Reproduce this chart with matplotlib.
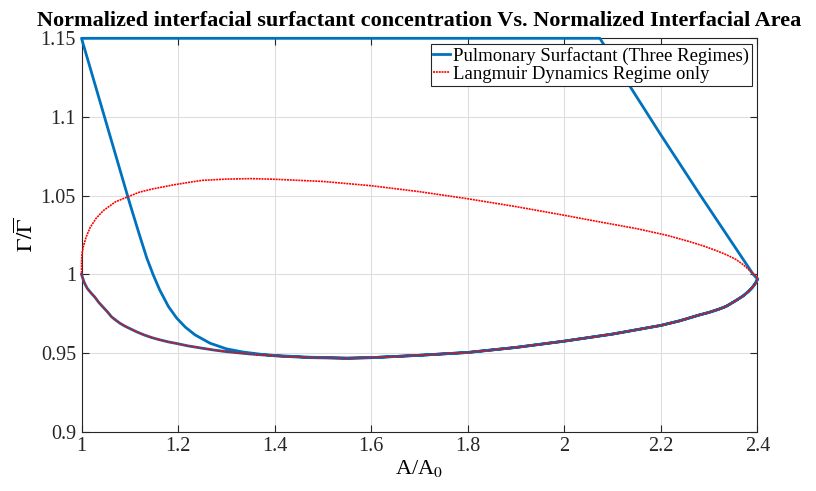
import numpy as np
import matplotlib
matplotlib.use("Agg")
import matplotlib.pyplot as plt

plt.rcParams['font.family'] = ['Liberation Serif', 'DejaVu Serif']
plt.rcParams['mathtext.fontset'] = 'stix'

# Langmuir-only loop (lower branch then upper branch)
red_x = [1.000, 1.002, 1.006, 1.012, 1.020, 1.027, 1.036, 1.045, 1.054, 1.062, 1.071, 1.080,
         1.090, 1.100, 1.115, 1.130, 1.145, 1.160, 1.180, 1.197, 1.220, 1.250, 1.275,
         1.300, 1.350, 1.403, 1.472, 1.550, 1.600, 1.700, 1.800, 1.900, 2.000, 2.100, 2.200,
         2.240, 2.278, 2.300, 2.320, 2.335, 2.346, 2.358, 2.370, 2.381, 2.389, 2.395, 2.398, 2.400,
         2.399, 2.395, 2.388, 2.380, 2.370, 2.355, 2.335, 2.315, 2.290, 2.260, 2.212, 2.150,
         2.073, 2.000, 1.900, 1.800, 1.700, 1.600, 1.500, 1.400, 1.350, 1.300, 1.250, 1.224,
         1.190, 1.148, 1.120, 1.097, 1.070, 1.045, 1.030, 1.018, 1.010, 1.004, 1.001, 1.000,
         1.000, 1.000]
red_y = [1.000, 0.998, 0.9945, 0.991, 0.988, 0.9857, 0.982, 0.979, 0.976, 0.973, 0.9708, 0.9688,
         0.967, 0.9655, 0.9633, 0.9614, 0.9598, 0.9585, 0.957, 0.956, 0.9545, 0.953, 0.9518,
         0.9508, 0.9493, 0.9481, 0.9470, 0.9466, 0.9470, 0.9485, 0.9503, 0.9535, 0.9575, 0.9620, 0.9675,
         0.9705, 0.9740, 0.9758, 0.9778, 0.9796, 0.9816, 0.9838, 0.9862, 0.9890, 0.9915, 0.9940, 0.9955, 0.9970,
         0.9985, 0.9998, 1.0010, 1.0035, 1.0062, 1.0095, 1.0125, 1.0150, 1.0178, 1.0207, 1.0248, 1.0290,
         1.0333, 1.0375, 1.0430, 1.0480, 1.0525, 1.0563, 1.0590, 1.0604, 1.0608, 1.0605, 1.0597, 1.0585,
         1.0568, 1.0543, 1.0522, 1.0494, 1.0460, 1.0404, 1.0355, 1.0298, 1.0240, 1.0180, 1.0130, 1.0080,
         1.0040, 1.0000]

# three-regime cycle: first expansion, compression up the diagonal, plateau,
# then expansion from the plateau back onto the lower branch
blue_x = [1.000, 1.002, 1.006, 1.012, 1.020, 1.027, 1.036, 1.045, 1.054, 1.062, 1.071, 1.080,
          1.090, 1.100, 1.115, 1.130, 1.145, 1.160, 1.180, 1.197, 1.220, 1.250, 1.275,
          1.300, 1.350, 1.403, 1.472, 1.550, 1.600, 1.700, 1.800, 1.900, 2.000, 2.100, 2.200,
          2.240, 2.278, 2.300, 2.320, 2.335, 2.346, 2.358, 2.370, 2.381, 2.389, 2.395, 2.398, 2.400,
          2.391, 2.281, 2.198, 2.142, 2.0735,
          1.000,
          1.040, 1.080, 1.100, 1.120, 1.135, 1.148, 1.162, 1.180, 1.197, 1.215, 1.235,
          1.266, 1.300, 1.334, 1.370, 1.403, 1.472, 1.550, 1.600, 1.700, 1.800, 1.900, 2.000,
          2.100, 2.200, 2.240, 2.278, 2.300, 2.320, 2.335, 2.346, 2.358, 2.370, 2.381, 2.389,
          2.395, 2.398, 2.400]
blue_y = [1.000, 0.998, 0.9945, 0.991, 0.988, 0.9857, 0.982, 0.979, 0.976, 0.973, 0.9708, 0.9688,
          0.967, 0.9655, 0.9633, 0.9614, 0.9598, 0.9585, 0.957, 0.956, 0.9545, 0.953, 0.9518,
          0.9508, 0.9493, 0.9481, 0.9470, 0.9466, 0.9470, 0.9485, 0.9503, 0.9535, 0.9575, 0.9620, 0.9675,
          0.9705, 0.9740, 0.9758, 0.9778, 0.9796, 0.9816, 0.9838, 0.9862, 0.9890, 0.9915, 0.9940, 0.9955, 0.9970,
          1.0000, 1.0505, 1.0895, 1.1165, 1.1500,
          1.1500,
          1.1080, 1.0660, 1.0450, 1.0250, 1.0105, 1.0000, 0.9900, 0.9795, 0.9722, 0.9664, 0.9615,
          0.9562, 0.9526, 0.9506, 0.9492, 0.9483, 0.9473, 0.9467, 0.9470, 0.9485, 0.9503, 0.9535, 0.9575,
          0.9620, 0.9675, 0.9705, 0.9740, 0.9758, 0.9778, 0.9796, 0.9816, 0.9838, 0.9862, 0.9890, 0.9915,
          0.9940, 0.9955, 0.9970]

x_ticks = [1, 1.2, 1.4, 1.6, 1.8, 2, 2.2, 2.4]
x_labels = ['1', '1.2', '1.4', '1.6', '1.8', '2', '2.2', '2.4']
y_ticks = [0.9, 0.95, 1, 1.05, 1.1, 1.15]
y_labels = ['0.9', '0.95', '1', '1.05', '1.1', '1.15']

fig = plt.figure(figsize=(8.16, 4.91), dpi=100)
ax = fig.add_axes([0.0999, 0.121, 0.8284, 0.801])

ax.plot(blue_x, blue_y, color='#0072BD', lw=2.0, clip_on=False,
        label='Pulmonary Surfactant (Three Regimes)', zorder=3)
ax.plot(red_x, red_y, color='red', lw=1.2, ls=(0, (1.2, 0.5)), clip_on=False,
        label='Langmuir Dynamics Regime only', zorder=4)

ax.set_xlim(1, 2.4)
ax.set_ylim(0.9, 1.15)
ax.set_xticks(x_ticks)
ax.set_xticklabels(x_labels)
ax.set_yticks(y_ticks)
ax.set_yticklabels(y_labels)
ax.tick_params(direction='in', top=True, right=True, labelsize=14.5, colors='#262626',
               length=5, width=0.8, pad=4)
ax.grid(True, color='#dedede', lw=0.8)
ax.set_axisbelow(True)
for s in ax.spines.values():
    s.set_color('#262626')
    s.set_linewidth(0.8)

ax.set_xlabel(r'A/A$_0$', fontsize=16, labelpad=1)
ax.set_ylabel(r'$\Gamma/\overline{\Gamma}$', fontsize=16, labelpad=2)
ax.set_title('Normalized interfacial surfactant concentration Vs. Normalized Interfacial Area',
             fontsize=16, fontweight='bold', pad=9)

leg = ax.legend(loc='upper right', fontsize=13.5, handlelength=0.9, handletextpad=0.15,
                borderpad=0.15, labelspacing=0.05, borderaxespad=0.3, fancybox=False,
                framealpha=1, edgecolor='#262626')
leg.get_frame().set_linewidth(0.8)

fig.savefig('out.png', dpi=100)
